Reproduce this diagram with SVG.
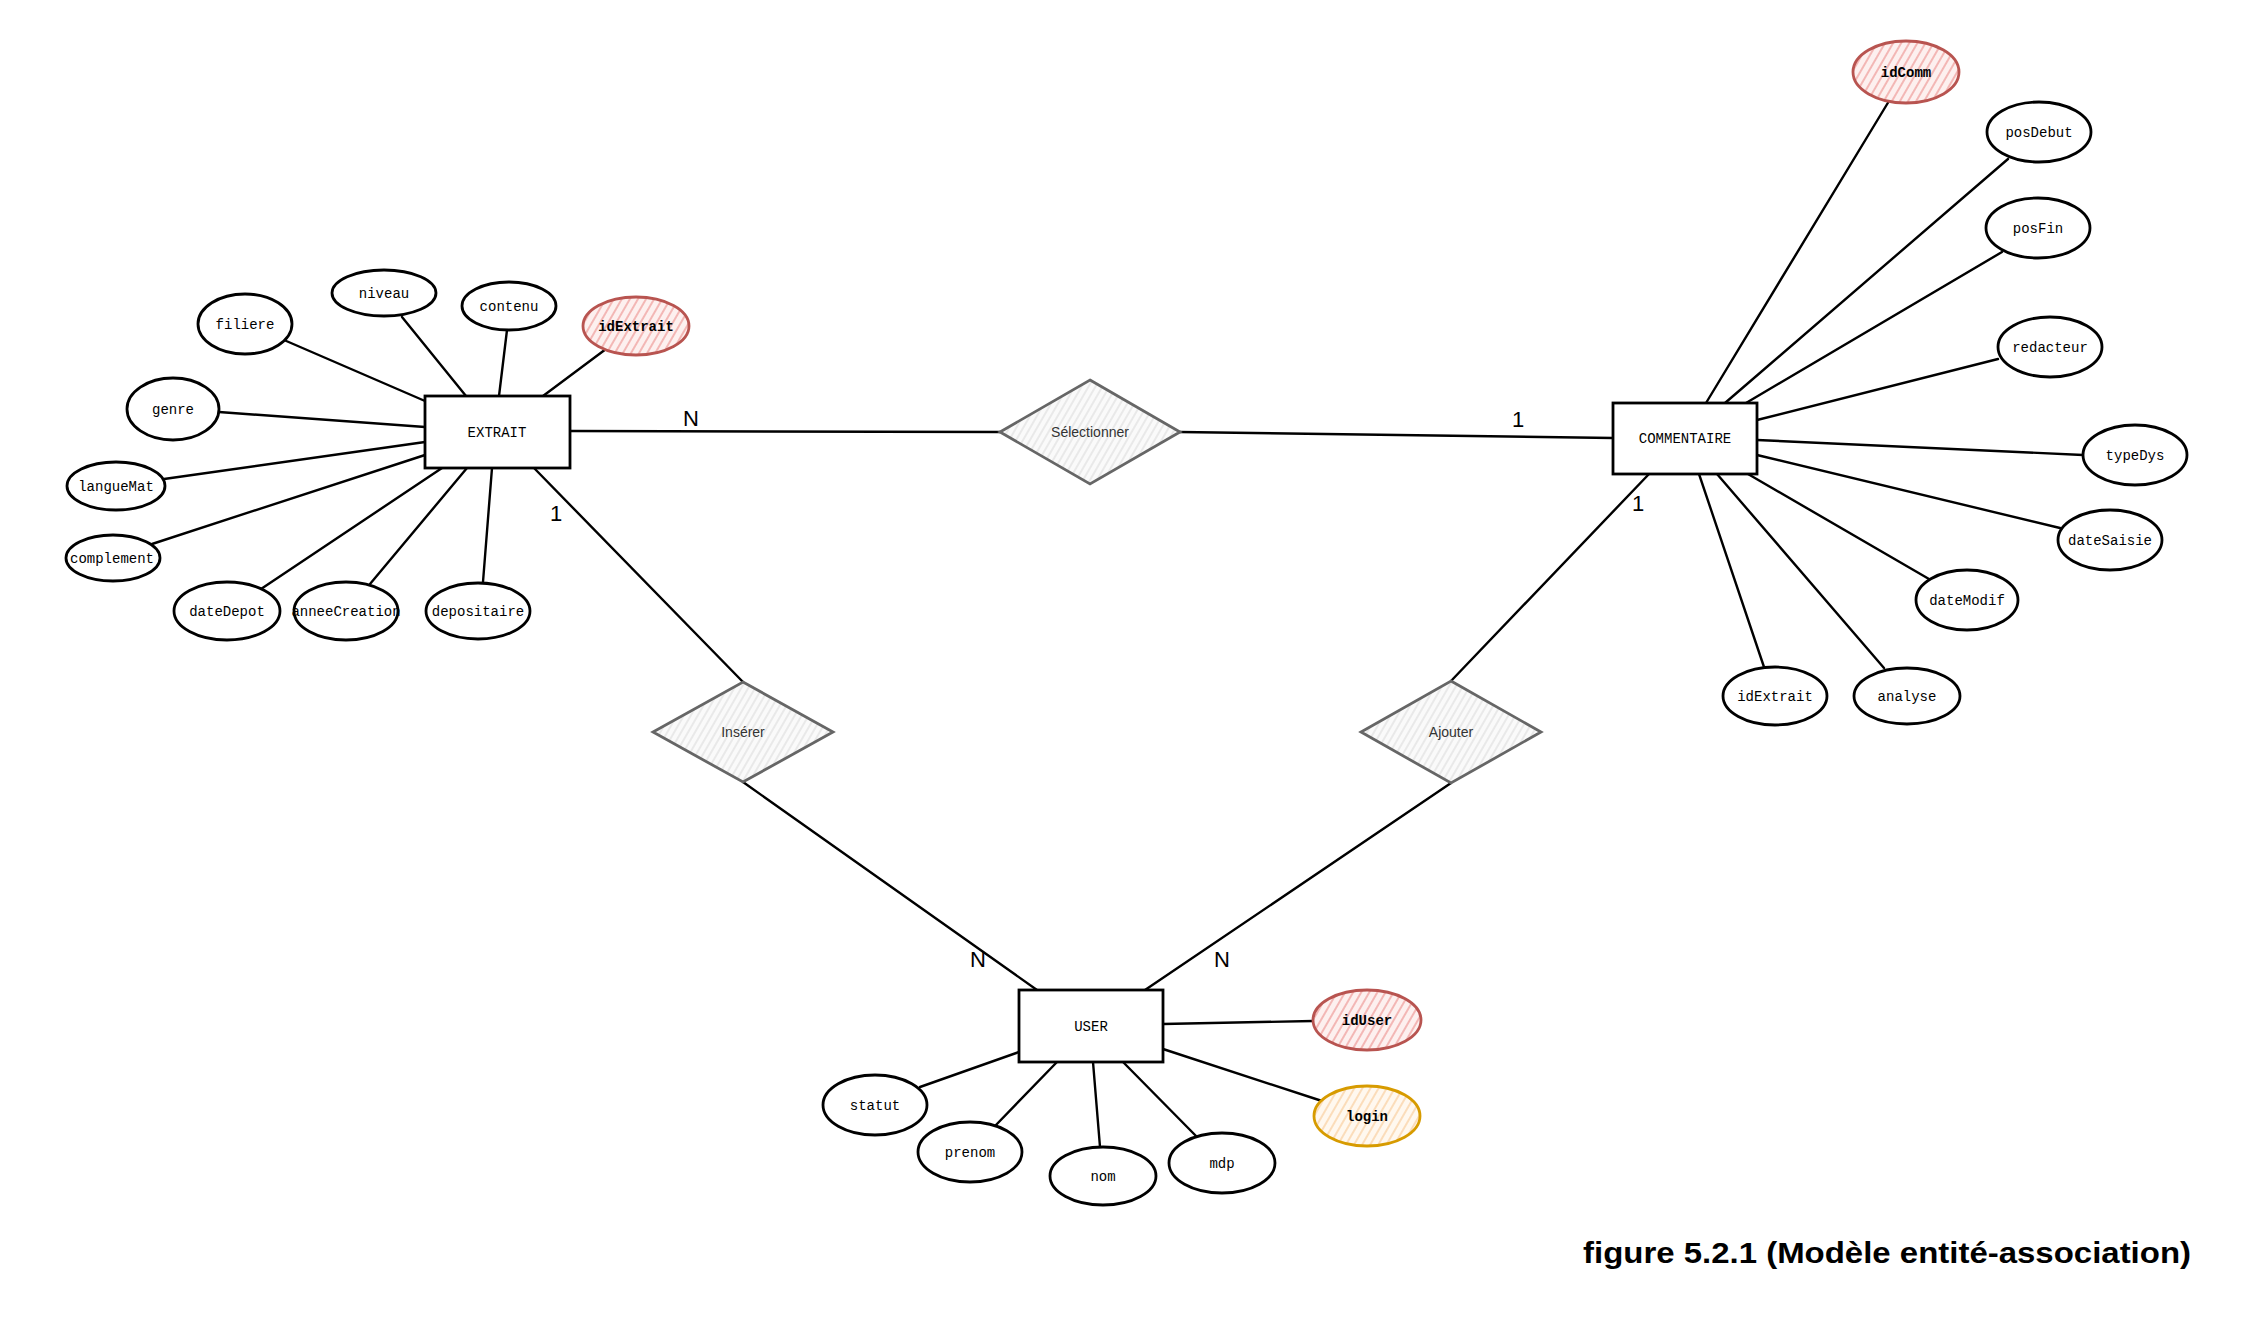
<svg xmlns="http://www.w3.org/2000/svg" width="2266" height="1320" viewBox="0 0 2266 1320">
<defs>
<pattern id="hRed" width="7" height="7" patternUnits="userSpaceOnUse" patternTransform="rotate(30)">
<rect width="7" height="7" fill="#fdf0ef"/>
<line x1="2" y1="0" x2="2" y2="7" stroke="#f1a9a7" stroke-width="1.6"/>
</pattern>
<pattern id="hOrange" width="7" height="7" patternUnits="userSpaceOnUse" patternTransform="rotate(30)">
<rect width="7" height="7" fill="#fff8ef"/>
<line x1="2" y1="0" x2="2" y2="7" stroke="#fbd6ad" stroke-width="1.6"/>
</pattern>
<pattern id="hGray" width="6" height="6" patternUnits="userSpaceOnUse" patternTransform="rotate(30)">
<rect width="6" height="6" fill="#fafafa"/>
<line x1="2" y1="0" x2="2" y2="6" stroke="#e2e2e2" stroke-width="1.4"/>
</pattern>
</defs>
<style>
.ent{fill:#ffffff;stroke:#000000;stroke-width:2.8}
.att{fill:#ffffff;stroke:#000000;stroke-width:2.8}
.key{fill:url(#hRed);stroke:#b85450;stroke-width:2.8}
.key2{fill:url(#hOrange);stroke:#d79b00;stroke-width:2.8}
.rel{fill:url(#hGray);stroke:#666666;stroke-width:2.8}
.mono{font-family:"Liberation Mono","DejaVu Sans Mono",monospace;font-size:14px;fill:#000000;text-anchor:middle}
.b{font-weight:bold}
.rt{font-family:"Liberation Sans",Arial,sans-serif;font-size:14px;fill:#333333;text-anchor:middle}
.card{font-family:"Liberation Sans",Arial,sans-serif;font-size:22px;fill:#000000;text-anchor:middle}
.title{font-family:"Liberation Sans",Arial,sans-serif;font-size:30px;font-weight:bold;fill:#000000}
.con line{stroke:#000000;stroke-width:2.4;stroke-linecap:round}
</style>
<rect width="2266" height="1320" fill="#ffffff"/>

<g id="connectors" class="con">
<line x1="284" y1="340" x2="425" y2="401"/>
<line x1="402" y1="317" x2="466" y2="396"/>
<line x1="507" y1="330" x2="499" y2="396"/>
<line x1="606" y1="349" x2="543" y2="396"/>
<line x1="219" y1="412" x2="425" y2="427"/>
<line x1="164" y1="479" x2="425" y2="442"/>
<line x1="152" y1="544" x2="425" y2="455"/>
<line x1="261" y1="589" x2="442" y2="468"/>
<line x1="370" y1="584" x2="467" y2="468"/>
<line x1="483" y1="582" x2="492" y2="468"/>
<line x1="534" y1="468" x2="743" y2="682"/>
<line x1="570" y1="431" x2="1000" y2="432"/>
<line x1="1180" y1="432" x2="1613" y2="438"/>
<line x1="1889" y1="101" x2="1706" y2="403"/>
<line x1="2008" y1="159" x2="1725" y2="403"/>
<line x1="2002" y1="252" x2="1746" y2="403"/>
<line x1="1998" y1="359" x2="1757" y2="420"/>
<line x1="1757" y1="440" x2="2083" y2="455"/>
<line x1="1757" y1="455" x2="2060" y2="528"/>
<line x1="1748" y1="474" x2="1929" y2="579"/>
<line x1="1717" y1="474" x2="1884" y2="668"/>
<line x1="1699" y1="474" x2="1764" y2="667"/>
<line x1="1649" y1="474" x2="1451" y2="681"/>
<line x1="743" y1="782" x2="1037" y2="990"/>
<line x1="1451" y1="783" x2="1145" y2="990"/>
<line x1="1163" y1="1024" x2="1313" y2="1021"/>
<line x1="1163" y1="1049" x2="1322" y2="1101"/>
<line x1="1019" y1="1052" x2="920" y2="1087"/>
<line x1="1057" y1="1062" x2="995" y2="1126"/>
<line x1="1093" y1="1062" x2="1100" y2="1147"/>
<line x1="1123" y1="1062" x2="1198" y2="1138"/>
<text class="card" x="691" y="426">N</text>
<text class="card" x="556" y="521">1</text>
<text class="card" x="1518" y="427">1</text>
<text class="card" x="1638" y="511">1</text>
<text class="card" x="978" y="967">N</text>
<text class="card" x="1222" y="967">N</text>
</g>

<g id="EXTRAIT"><rect class="ent" x="425" y="396" width="145" height="72"/><text class="mono" x="497" y="437">EXTRAIT</text></g>
<g id="COMMENTAIRE"><rect class="ent" x="1613" y="403" width="144" height="71"/><text class="mono" x="1685" y="443">COMMENTAIRE</text></g>
<g id="USER"><rect class="ent" x="1019" y="990" width="144" height="72"/><text class="mono" x="1091" y="1031">USER</text></g>

<g id="Selectionner"><polygon class="rel" points="1090,380 1180,432 1090,484 1000,432"/><text class="rt" x="1090" y="437">Sélectionner</text></g>
<g id="Inserer"><polygon class="rel" points="743,682 833,732 743,782 653,732"/><text class="rt" x="743" y="737">Insérer</text></g>
<g id="Ajouter"><polygon class="rel" points="1451,681 1541,732 1451,783 1361,732"/><text class="rt" x="1451" y="737">Ajouter</text></g>

<g id="niveau"><ellipse class="att" cx="384" cy="293" rx="52" ry="23"/><text class="mono" x="384" y="298">niveau</text></g>
<g id="contenu"><ellipse class="att" cx="509" cy="306" rx="47" ry="24"/><text class="mono" x="509" y="311">contenu</text></g>
<g id="filiere"><ellipse class="att" cx="245" cy="324" rx="47" ry="30"/><text class="mono" x="245" y="329">filiere</text></g>
<g id="idExtrait"><ellipse class="key" cx="636" cy="326" rx="53" ry="29"/><text class="mono b" x="636" y="331">idExtrait</text></g>
<g id="genre"><ellipse class="att" cx="173" cy="409" rx="46" ry="31"/><text class="mono" x="173" y="414">genre</text></g>
<g id="langueMat"><ellipse class="att" cx="116" cy="486" rx="49" ry="24"/><text class="mono" x="116" y="491">langueMat</text></g>
<g id="complement"><ellipse class="att" cx="113" cy="558" rx="47" ry="23"/><text class="mono" x="112" y="563">complement</text></g>
<g id="dateDepot"><ellipse class="att" cx="227" cy="611" rx="53" ry="29"/><text class="mono" x="227" y="616">dateDepot</text></g>
<g id="anneeCreation"><ellipse class="att" cx="346" cy="611" rx="52" ry="29"/><text class="mono" x="346" y="616">anneeCreation</text></g>
<g id="depositaire"><ellipse class="att" cx="478" cy="611" rx="52" ry="28"/><text class="mono" x="478" y="616">depositaire</text></g>

<g id="idComm"><ellipse class="key" cx="1906" cy="72" rx="53" ry="31"/><text class="mono b" x="1906" y="77">idComm</text></g>
<g id="posDebut"><ellipse class="att" cx="2039" cy="132" rx="52" ry="30"/><text class="mono" x="2039" y="137">posDebut</text></g>
<g id="posFin"><ellipse class="att" cx="2038" cy="228" rx="52" ry="30"/><text class="mono" x="2038" y="233">posFin</text></g>
<g id="redacteur"><ellipse class="att" cx="2050" cy="347" rx="52" ry="30"/><text class="mono" x="2050" y="352">redacteur</text></g>
<g id="typeDys"><ellipse class="att" cx="2135" cy="455" rx="52" ry="30"/><text class="mono" x="2135" y="460">typeDys</text></g>
<g id="dateSaisie"><ellipse class="att" cx="2110" cy="540" rx="52" ry="30"/><text class="mono" x="2110" y="545">dateSaisie</text></g>
<g id="dateModif"><ellipse class="att" cx="1967" cy="600" rx="51" ry="30"/><text class="mono" x="1967" y="605">dateModif</text></g>
<g id="idExtraitC"><ellipse class="att" cx="1775" cy="696" rx="52" ry="29"/><text class="mono" x="1775" y="701">idExtrait</text></g>
<g id="analyse"><ellipse class="att" cx="1907" cy="696" rx="53" ry="28"/><text class="mono" x="1907" y="701">analyse</text></g>

<g id="idUser"><ellipse class="key" cx="1367" cy="1020" rx="54" ry="30"/><text class="mono b" x="1367" y="1025">idUser</text></g>
<g id="login"><ellipse class="key2" cx="1367" cy="1116" rx="53" ry="30"/><text class="mono b" x="1367" y="1121">login</text></g>
<g id="statut"><ellipse class="att" cx="875" cy="1105" rx="52" ry="30"/><text class="mono" x="875" y="1110">statut</text></g>
<g id="prenom"><ellipse class="att" cx="970" cy="1152" rx="52" ry="30"/><text class="mono" x="970" y="1157">prenom</text></g>
<g id="nom"><ellipse class="att" cx="1103" cy="1176" rx="53" ry="29"/><text class="mono" x="1103" y="1181">nom</text></g>
<g id="mdp"><ellipse class="att" cx="1222" cy="1163" rx="53" ry="30"/><text class="mono" x="1222" y="1168">mdp</text></g>

<text class="title" x="1583" y="1263" textLength="608" lengthAdjust="spacingAndGlyphs">figure 5.2.1 (Modèle entité-association)</text>
</svg>
